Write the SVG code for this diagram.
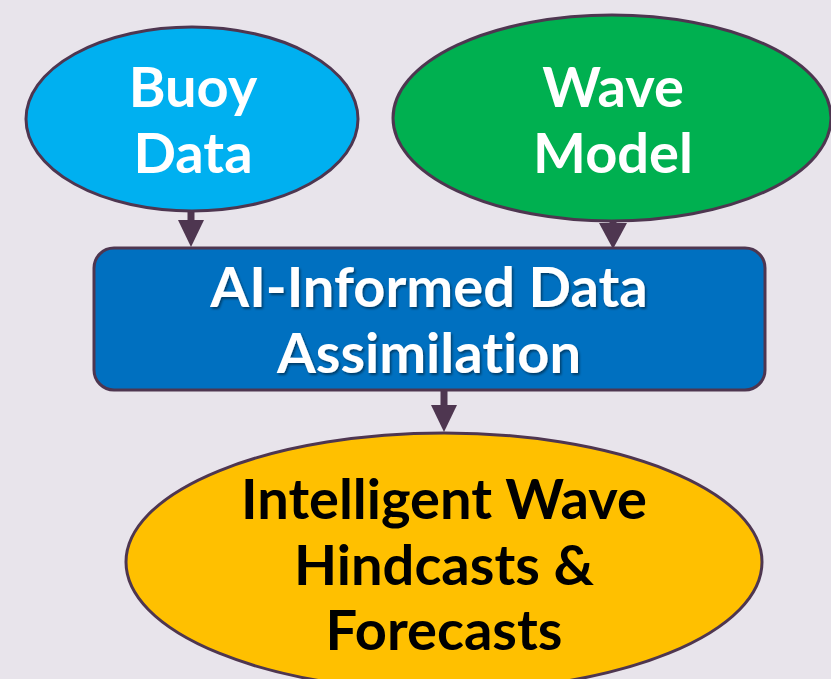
<svg xmlns="http://www.w3.org/2000/svg" width="831" height="679" viewBox="0 0 831 679">
<defs>
<style>
.shape{stroke:#4E3650;stroke-width:3}
.lbl{font-family:Lato,"Open Sans","Liberation Sans",sans-serif;font-weight:bold;font-size:56px;text-anchor:middle;font-variant-ligatures:none;font-feature-settings:"liga" 0,"clig" 0}
.w{fill:#FFFFFF}
.k{fill:#000000}
.conn{stroke:#4E3650;stroke-width:7;fill:none}
.head{fill:#4E3650}
</style>
<filter id="sh" x="-10%" y="-20%" width="120%" height="150%">
<feDropShadow dx="1.5" dy="2" stdDeviation="1.2" flood-color="#000000" flood-opacity="0.45"/>
</filter>
</defs>
<rect width="831" height="679" fill="#E8E4EB"/>
<g id="connectors">
<line class="conn" x1="191" y1="211" x2="191" y2="222"/>
<polygon class="head" points="178,220 204,220 191,247"/>
<line class="conn" x1="613" y1="220" x2="613" y2="225"/>
<polygon class="head" points="599,223 627,223 613,249"/>
<line class="conn" x1="444" y1="390" x2="444" y2="408"/>
<polygon class="head" points="431,405 457,405 444,432"/>
</g>
<g id="buoy">
<ellipse class="shape" cx="192" cy="119" rx="166" ry="92" fill="#00B0F0"/>
<text class="lbl w" x="193" y="107">Buoy</text>
<text class="lbl w" x="193" y="173">Data</text>
</g>
<g id="wave">
<ellipse class="shape" cx="612" cy="118" rx="219" ry="103" fill="#00B050"/>
<text class="lbl w" x="613" y="107">Wave</text>
<text class="lbl w" x="613" y="173">Model</text>
</g>
<g id="assim">
<rect class="shape" x="94" y="248" width="671" height="142" rx="20" ry="20" fill="#0070C0"/>
<g filter="url(#sh)">
<text class="lbl w" x="429" y="307">AI-Informed Data</text>
<text class="lbl w" x="429" y="373">Assimilation</text>
</g>
</g>
<g id="forecast">
<ellipse class="shape" cx="444" cy="562" rx="318" ry="129" fill="#FFC000"/>
<text class="lbl k" x="444" y="519">Intelligent Wave</text>
<text class="lbl k" x="444" y="585">Hindcasts &amp;</text>
<text class="lbl k" x="444" y="650">Forecasts</text>
</g>
</svg>
